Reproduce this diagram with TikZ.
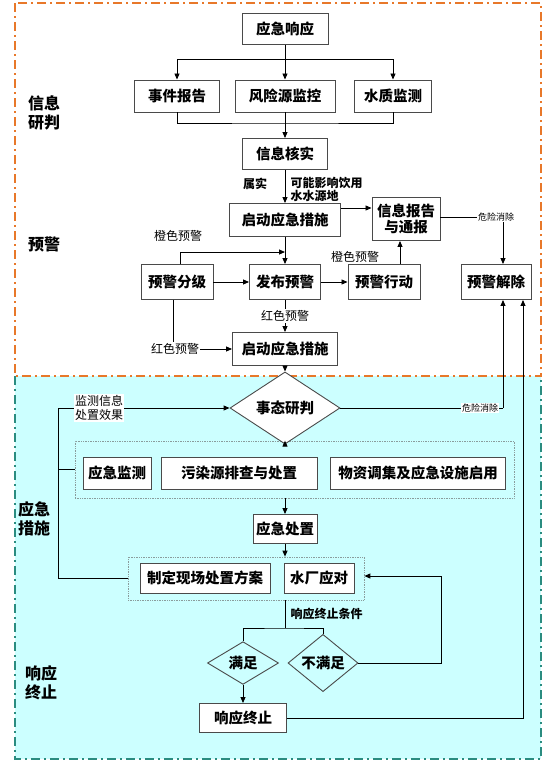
\documentclass[tikz,border=0pt]{standalone}
\usepackage{fontspec}
\setmainfont{Noto Sans CJK SC}
\usetikzlibrary{arrows.meta,shapes.geometric}
\definecolor{orangeb}{HTML}{E8782A}
\definecolor{tealb}{HTML}{2A8C80}
\definecolor{cyanf}{HTML}{CCFFFF}
\definecolor{boxc}{HTML}{4A4A4A}
\definecolor{grpc}{HTML}{8A9C9C}
\begin{document}
\begin{tikzpicture}[x=1pt,y=-1pt,
 bx/.style={draw=boxc, line width=0.95pt, fill=white, inner sep=0pt, font=\bfseries\fontsize{14.5}{16.5}\selectfont, align=center},
 dia/.style={diamond, draw=boxc, line width=0.9pt, inner sep=0pt, font=\bfseries\fontsize{14.5}{16.5}\selectfont},
 ln/.style={line width=0.9pt, draw=black},
 arr/.style={ln, -{Triangle[length=6pt,width=5pt]}},
 sm/.style={font=\fontsize{12}{14}\selectfont, inner sep=1pt},
 smb/.style={font=\bfseries\fontsize{12}{13}\selectfont, inner sep=0.5pt, align=left},
 tinyl/.style={font=\fontsize{9}{10}\selectfont, fill=white, inner sep=1pt},
 sec/.style={font=\bfseries\fontsize{16}{19}\selectfont, align=left, inner sep=0pt},
 grp/.style={draw=grpc, densely dotted, line width=0.7pt, inner sep=0pt}]
\useasboundingbox (0,0) rectangle (543,761);
% section frames
\fill[cyanf] (15,376) rectangle (541,759);
\draw[tealb, line width=1.5pt, dash pattern=on 9pt off 4pt on 2pt off 4pt] (15,376) -- (15,759) -- (541,759) -- (541,376);
\draw[orangeb, line width=1.5pt, dash pattern=on 9pt off 4pt on 2pt off 4pt] (15,3) rectangle (541,376);
% section labels
\node[sec] at (44,113) {信息\\研判};
\node[sec] at (44,244) {预警};
\node[sec] at (34,519) {应急\\措施};
\node[sec] at (41,683) {响应\\终止};
% groups
\node[grp, minimum width=439pt, minimum height=57pt] (g1) at (294.5,469.5) {};
\node[grp, minimum width=236pt, minimum height=43pt] (g2) at (246,578.5) {};
% nodes
\node[bx, minimum width=86pt, minimum height=31pt] (n1) at (285,29) {应急响应};
\node[bx, minimum width=85pt, minimum height=32pt] (e1) at (177,96) {事件报告};
\node[bx, minimum width=100pt, minimum height=32pt] (e2) at (285,96) {风险源监控};
\node[bx, minimum width=77pt, minimum height=32pt] (e3) at (393,96) {水质监测};
\node[bx, minimum width=85pt, minimum height=31pt] (v1) at (285,154) {信息核实};
\node[bx, minimum width=111pt, minimum height=33pt] (s1) at (285,220) {启动应急措施};
\node[bx, minimum width=68pt, minimum height=43pt] (r1) at (406,219) {信息报告\\与通报};
\node[bx, minimum width=72pt, minimum height=35pt] (p1) at (177,282) {预警分级};
\node[bx, minimum width=71pt, minimum height=35pt] (p2) at (285,282) {发布预警};
\node[bx, minimum width=72pt, minimum height=35pt] (p3) at (384,282) {预警行动};
\node[bx, minimum width=70pt, minimum height=35pt] (p4) at (496,282) {预警解除};
\node[bx, minimum width=105pt, minimum height=33pt] (s2) at (285,349) {启动应急措施};
\node[dia, fill=white, minimum width=110pt, minimum height=45pt] (d1) at (285,408) {事态研判};
\node[bx, minimum width=68pt, minimum height=32pt] (m1) at (117,473) {应急监测};
\node[bx, minimum width=156pt, minimum height=32pt] (m2) at (239,473) {污染源排查与处置};
\node[bx, minimum width=175pt, minimum height=32pt] (m3) at (418,473) {物资调集及应急设施启用};
\node[bx, minimum width=64pt, minimum height=29pt] (q1) at (285,529) {应急处置};
\node[bx, minimum width=130pt, minimum height=30pt] (w1) at (205,578) {制定现场处置方案};
\node[bx, minimum width=70pt, minimum height=30pt] (w2) at (319,578) {水厂应对};
\node[dia, minimum width=71pt, minimum height=36pt] (dm1) at (243,663) {满足};
\node[dia, minimum width=70pt, minimum height=36pt] (dm2) at (323,663) {不满足};
\node[bx, minimum width=87pt, minimum height=29pt] (t1) at (243,718) {响应终止};
% labels
\node[smb] at (255,184) {属实};
\node[smb, anchor=west] at (290,189) {可能影响饮用\\水水源地};
\node[sm] at (178,236) {橙色预警};
\node[sm] at (355,257) {橙色预警};
\node[smb, anchor=west] at (290,614) {响应终止条件};
% connectors
\coordinate (c1) at (285,59);
\coordinate (c1l) at (177,59);
\coordinate (c1r) at (393,59);
\coordinate (c2) at (285,123);
\draw[ln] (n1.south) -- (c1);
\draw[ln] (c1l) -- (c1r);
\draw[arr] (c1l) -- (e1.north);
\draw[arr] (c1) -- (e2.north);
\draw[arr] (c1r) -- (e3.north);
\draw[ln] (e1.south) |- (c2) -| (e3.south);
\draw[arr] (e2.south) -- (v1.north);
\draw[arr] (v1.south) -- (s1.north);
\draw[arr] (s1.east |- 0,208) -- (r1.west |- 0,208);
\coordinate (c3) at (285,252);
\draw[arr] (s1.south) -- (p2.north);
\draw[arr] (p1.north -| 180,0) |- (c3);
\draw[arr] (p1) -- (p2);
\draw[arr] (p2) -- (p3);
\draw[arr] (p3.north -| 400,0) -- (r1.south -| 400,0);
% warning release
\coordinate (c4) at (503,217);
\draw[ln] (r1.east |- c4) -- (c4);
\draw[arr] (c4) -- (p4.north -| c4);
\node[tinyl] at (496,217) {危险消除};
% red warnings
\draw[arr] (p2.south) -- (s2.north);
\node[sm, fill=white] at (285,316) {红色预警};
\node[sm] (lr) at (175,349) {红色预警};
\draw[ln] (p1.south -| 173,0) -- (lr.north -| 173,0);
\draw[arr] (lr.east) -- (s2.west);
\draw[arr] (s2.south) -- (d1.north);
% judgement
\coordinate (c5) at (503,408);
\draw[ln] (d1.east) -- (c5);
\draw[arr] (c5) -- (p4.south -| c5);
\node[tinyl] at (480,408) {危险消除};
\coordinate (lft) at (58,408);
\draw[arr] (g2.west) -| (lft) -- (d1.west);
\draw[ln] (g1.west) -- (g1.west -| lft);
\node[sm, fill=white, align=left, font=\fontsize{12}{14}\selectfont] at (99,408) {监测信息\\处置效果};
\draw[arr] (d1.south) -- (g1.north -| d1.south);
\draw[arr] (g1.south -| q1.north) -- (q1.north);
\draw[arr] (q1.south) -- (g2.north -| q1.south);
% termination
\coordinate (c6) at (285,628);
\draw[ln] (g2.south -| c6) -- (c6);
\draw[ln] (dm1.north) |- (c6) -| (dm2.north);
\draw[arr] (dm1.south) -- (t1.north);
\coordinate (rt) at (441,576);
\draw[arr] (dm2.east) -| (rt) -- (g2.east |- rt);
\draw[arr] (t1.east) -| (p4.south -| 523,0);
\end{tikzpicture}
\end{document}
